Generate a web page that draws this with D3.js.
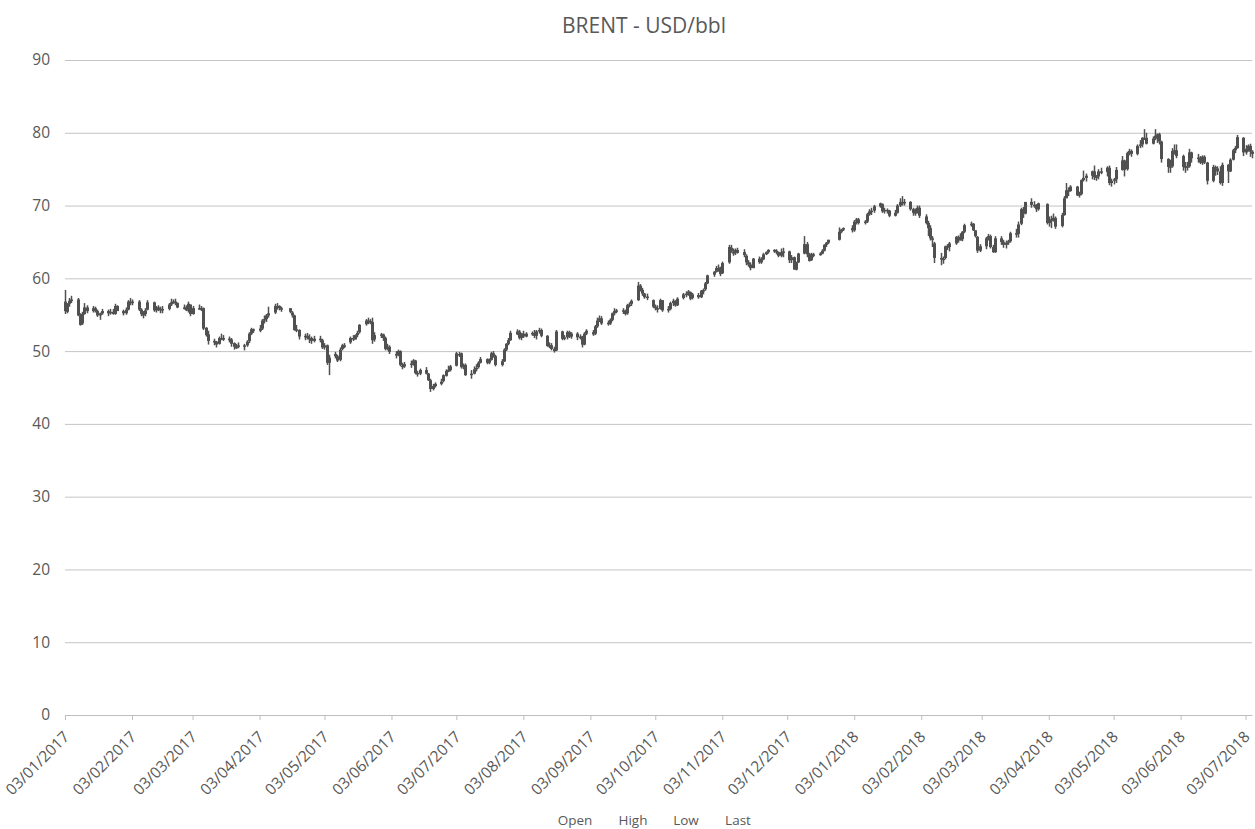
<!DOCTYPE html>
<html>
<head>
<meta charset="utf-8">
<script src="https://cdn.jsdelivr.net/npm/d3@7"></script>
<style>
    html, body { margin: 0; padding: 0; background: #fff; }
    #chart { width: 1255px; height: 829px; }
    text { font-family: "Open Sans", "Noto Sans", sans-serif; fill: #595959; }
    .axis--y .domain { display: none; }
    .axis--y line { stroke: #c4c4c4; }
    .axis--y text { font-size: 15.5px; }
    .axis--x .domain { stroke: #bfbfbf; }
    .axis--x line { stroke: #bfbfbf; }
    .axis--x text { font-size: 15.5px; }
</style>
</head>
<body>
<div id="chart"></div>
<script>

// one row per month, trading days only (weekends and ICE holidays skipped)
var months = [
    [2017, 0], [2017, 1], [2017, 2], [2017, 3], [2017, 4], [2017, 5], [2017, 6],
    [2017, 7], [2017, 8], [2017, 9], [2017, 10], [2017, 11],
    [2018, 0], [2018, 1], [2018, 2], [2018, 3], [2018, 4], [2018, 5], [2018, 6]
];
var holidays = ["2017-01-02", "2017-04-14", "2017-12-25", "2017-12-26", "2018-01-01", "2018-03-30"];

var open = [
    [56.8,55.4,56.5,56.9,57.1,54.9,53.8,55.1,56.0,55.5,55.9,55.5,54.9,55.2,55.5,55.2,55.4,55.1,56.2,55.5,55.2],
    [55.7,56.8,56.6,56.8,55.7,55.0,55.1,55.7,56.7,55.6,56.0,55.8,55.7,55.8,56.4,56.7,56.8,56.6,56.0,56.0],
    [55.6,56.4,55.1,55.8,55.9,55.9,53.2,52.3,51.4,51.3,51.0,51.7,51.8,51.7,51.6,51.1,50.6,50.6,50.7,50.8,51.4,52.4,53.0],
    [52.8,53.1,54.2,54.4,54.9,55.3,56.2,56.2,55.9,55.9,55.3,54.9,52.9,52.9,51.9,52.1,51.8,51.8,51.4],
    [51.7,51.5,50.5,50.8,48.4,49.6,49.3,48.8,50.3,50.8,51.2,51.8,51.6,52.2,52.6,53.7,54.2,54.1,54.0,51.6,52.2,52.3,51.8],
    [50.3,50.6,49.6,49.5,50.0,48.0,47.9,48.2,48.3,48.7,47.0,46.9,47.4,46.9,46.0,44.8,45.2,45.5,45.9,46.6,47.3,47.4],
    [48.0,49.6,49.7,47.8,48.1,46.8,46.9,47.6,47.8,48.4,48.9,48.4,48.8,49.7,49.3,48.1,48.6,50.2,51.0,51.5,52.3],
    [52.7,51.8,52.4,52.0,52.5,52.4,52.1,52.7,52.9,52.1,50.8,50.8,50.3,50.1,52.7,51.7,51.9,52.6,52.0,52.4,51.9,52.0,50.9],
    [52.4,52.6,52.4,53.4,54.2,54.5,53.9,53.8,54.3,55.2,55.5,55.6,55.5,55.2,56.3,56.5,57.0,59.0,58.4,57.9,57.4],
    [57.0,56.1,55.9,55.8,57.0,55.7,55.8,56.6,56.9,56.3,57.3,57.8,57.9,58.1,57.3,57.7,57.4,58.3,58.5,59.3,60.5,60.9],
    [61.4,61.5,60.7,62.2,64.2,63.6,63.5,63.9,63.6,63.1,62.2,61.9,61.4,62.7,62.2,62.6,63.3,63.6,63.9,63.8,63.6,63.1],
    [63.6,63.7,62.5,62.9,61.2,62.2,63.4,64.7,63.3,62.5,63.3,63.3,63.4,63.8,64.6,64.9,65.3,66.4,66.8],
    [66.9,66.6,67.9,68.1,67.6,67.8,68.8,69.2,69.3,69.9,70.2,69.2,69.4,69.3,68.6,69.0,70.0,70.5,70.4,70.5,69.5,69.0],
    [69.1,69.7,68.5,67.6,66.9,65.5,64.8,62.8,62.6,62.8,64.4,64.3,64.8,65.7,65.3,65.4,66.4,67.3,67.5,66.6],
    [65.7,63.8,64.4,65.5,65.8,64.3,63.6,65.5,65.0,64.6,64.9,65.1,66.2,66.1,67.5,69.5,68.9,70.5,70.1,70.0,69.5],
    [70.2,67.6,68.1,68.0,68.3,67.2,68.7,71.0,72.1,72.0,72.6,71.4,71.6,73.5,73.8,74.1,74.7,73.9,74.0,74.7,74.6],
    [75.2,73.1,73.4,73.6,74.9,76.2,75.0,77.2,77.5,77.1,78.2,78.4,79.3,79.3,78.5,79.2,79.6,79.8,78.8,76.4,75.3,75.4,77.5],
    [77.6,76.8,75.3,75.4,75.4,77.3,76.6,76.5,75.9,76.7,75.9,73.4,75.3,75.1,74.7,73.1,75.6,74.7,76.3,77.6,77.9],
    [79.3,77.3,77.8,78.2,77.4]
];

var high = [
    [58.4,56.6,57.3,57.6,57.3,55.2,55.4,56.6,56.3,56.2,56.1,55.7,55.3,55.8,55.7,55.8,55.8,56.5,56.3,55.7,56.0],
    [57.0,57.3,57.1,57.0,55.9,55.5,55.9,57.0,56.8,56.2,56.3,56.1,56.2,56.6,57.2,57.1,57.2,56.7,56.4,56.3],
    [56.8,56.4,56.2,56.4,56.2,56.0,53.3,52.8,51.7,51.4,52.0,52.4,52.2,52.0,51.8,51.2,51.0,51.2,51.0,51.5,52.6,53.2,53.1],
    [53.6,54.4,54.9,55.1,56.1,56.5,56.6,56.3,56.1,55.9,55.5,55.0,53.6,53.0,52.4,52.5,52.3,52.0,52.1],
    [52.1,51.7,51.1,50.9,49.5,49.9,49.5,50.5,51.0,51.1,52.0,52.2,52.3,52.8,53.7,54.4,54.6,54.4,54.6,52.6,52.5,52.4,52.0],
    [51.0,50.8,50.0,50.2,50.1,48.4,48.5,48.7,48.9,48.8,47.3,47.6,47.8,47.0,46.2,45.5,45.7,46.2,46.8,47.5,48.0,48.1],
    [49.9,49.9,49.8,48.3,48.3,47.4,47.9,48.2,48.6,49.2,49.0,49.0,49.9,50.0,49.5,48.9,50.4,51.1,51.8,52.8,53.0],
    [52.9,52.5,52.8,52.6,52.7,52.9,52.9,53.2,53.1,52.2,51.2,51.1,50.6,52.9,52.8,52.2,52.8,52.8,52.6,52.6,52.3,52.1,52.6],
    [53.0,52.9,53.6,54.6,54.9,54.8,54.2,54.5,55.3,55.9,55.8,55.9,55.7,56.5,56.7,57.1,59.5,59.2,58.7,58.0,57.9],
    [57.1,56.4,56.3,57.2,57.0,56.2,56.8,57.2,57.0,57.4,58.0,58.2,58.4,58.2,58.0,58.0,58.4,58.6,59.5,60.5,61.0,61.7],
    [61.9,61.6,62.3,64.6,64.6,64.1,64.1,64.2,64.0,63.3,62.5,62.2,62.8,63.0,62.9,63.5,63.7,64.0,64.0,64.0,63.7,64.1],
    [64.2,63.8,63.2,63.0,62.3,63.5,65.8,65.0,63.5,63.5,63.5,63.6,64.0,64.7,65.0,65.3,67.0,66.8,67.0],
    [67.3,68.0,68.3,68.3,68.0,69.0,69.5,69.7,70.1,70.4,70.3,69.7,69.6,69.4,69.4,70.2,71.0,71.3,70.9,70.6,69.7,69.6],
    [70.0,70.0,68.8,67.9,67.3,65.8,65.0,63.5,63.0,64.5,64.7,65.0,65.8,65.9,66.2,66.5,67.5,67.8,67.6,66.6],
    [65.8,64.7,65.7,66.1,66.0,64.6,65.8,65.8,65.3,65.2,65.3,66.4,66.8,67.8,69.7,69.8,70.5,71.0,70.6,70.2,70.4],
    [70.3,68.5,68.6,68.9,68.5,69.0,71.3,73.1,72.5,72.8,72.7,71.9,73.6,74.8,74.4,74.8,75.5,74.2,75.0,75.2,75.4],
    [75.5,73.7,73.8,75.3,76.8,76.3,77.4,77.8,77.7,78.4,79.0,79.4,80.5,80.0,79.5,80.5,79.9,80.0,78.9,76.5,76.3,77.9,78.4],
    [78.4,77.0,76.0,76.0,77.8,77.4,77.1,76.8,76.9,76.9,76.0,75.6,75.5,75.4,75.4,75.9,75.7,76.5,77.8,78.2,79.7],
    [79.4,78.3,78.4,78.5,77.6]
];

var low = [
    [55.1,55.2,56.1,56.6,54.8,53.5,53.6,55.0,55.2,55.3,55.3,54.7,54.3,55.0,54.8,55.0,55.0,55.0,55.5,54.9,55.0],
    [55.6,56.3,56.3,55.5,54.8,54.5,54.8,55.6,55.4,55.3,55.5,55.2,55.2,55.6,56.2,56.5,56.3,55.9,55.7,55.5],
    [55.3,54.8,55.0,55.7,55.5,52.9,52.0,50.9,50.8,50.5,50.9,51.5,51.4,51.2,50.6,50.2,50.3,50.4,50.1,50.6,51.1,52.2,52.5],
    [52.6,52.9,53.8,54.0,54.6,55.1,55.7,55.6,55.4,55.2,54.6,52.8,52.6,51.6,51.5,51.6,51.1,51.0,51.2],
    [51.2,50.3,50.2,48.1,46.7,49.0,48.5,48.6,50.1,50.4,51.0,51.4,51.6,51.9,52.4,53.5,53.7,53.7,51.0,51.3,51.8,51.4,50.1],
    [50.1,49.6,49.0,49.3,47.9,47.5,47.7,47.7,48.0,46.8,46.5,46.7,46.8,45.9,44.4,44.6,45.0,45.3,45.7,46.5,47.1,47.2],
    [47.9,49.2,47.6,47.5,46.6,46.2,46.8,47.2,47.6,48.3,48.2,48.2,48.7,49.1,47.9,47.9,48.5,50.0,50.8,51.4,52.2],
    [51.6,51.5,51.8,51.9,52.1,51.8,51.6,52.4,51.9,50.6,50.4,50.1,49.8,50.0,51.5,51.5,51.6,51.8,51.7,51.5,51.6,50.5,50.8],
    [52.2,52.1,52.2,53.2,54.0,53.6,53.5,53.6,54.1,54.9,55.2,55.1,54.9,55.0,56.0,56.2,56.9,58.2,57.6,57.2,57.0],
    [55.9,55.6,55.3,55.7,55.4,55.3,55.6,56.2,56.1,56.2,57.1,57.4,57.6,57.0,57.1,57.2,57.3,57.8,58.3,59.2,60.2,60.8],
    [60.9,60.3,60.6,62.0,63.5,63.1,63.2,63.4,62.9,61.8,61.6,61.1,61.4,62.0,62.0,62.5,63.2,63.4,63.5,63.3,62.9,62.9],
    [62.9,62.1,62.1,61.2,61.1,62.1,63.3,62.9,62.3,62.4,62.9,63.1,63.3,63.7,64.3,64.7,65.2,66.2,66.5],
    [66.3,66.4,67.4,67.4,67.4,67.6,68.6,68.7,69.0,69.7,69.0,68.9,68.9,68.4,68.5,68.9,69.8,70.0,70.0,69.3,68.6,68.6],
    [68.9,68.3,67.4,65.8,65.2,64.3,62.1,61.8,62.0,62.6,63.9,63.7,64.6,64.9,65.2,65.1,66.2,67.1,66.5,65.6],
    [63.5,63.6,64.0,65.2,64.1,63.5,63.5,64.6,64.2,64.1,64.6,64.9,65.6,65.6,67.3,68.3,68.8,69.7,69.7,69.1,69.3],
    [67.4,67.1,66.9,67.8,66.8,67.0,68.6,71.0,71.3,71.9,71.3,71.1,71.4,73.3,73.3,73.6,73.5,73.4,73.6,74.3,74.0],
    [72.8,72.6,72.9,73.1,74.8,74.0,74.8,76.9,76.7,76.9,77.9,78.0,79.0,78.4,78.4,79.0,78.6,78.4,75.9,74.5,74.5,75.2,77.0],
    [76.5,74.8,74.5,74.8,75.2,75.9,75.9,75.7,75.6,75.7,72.9,73.2,74.1,74.2,72.9,72.7,73.1,74.6,76.2,77.2,77.8],
    [76.8,77.0,77.4,76.7,76.5]
];

var last = [
    [55.5,56.5,56.9,57.1,54.9,53.6,55.1,56.0,55.5,55.9,55.5,54.9,55.2,55.5,55.2,55.4,55.1,56.2,55.5,55.2,55.7],
    [56.8,56.6,56.8,55.7,55.1,55.1,55.6,56.7,55.6,56.0,55.8,55.7,55.8,56.4,56.7,56.8,56.6,56.0,56.0,55.6],
    [56.5,55.1,55.9,55.9,55.9,53.1,52.2,51.4,51.4,50.9,51.8,51.8,51.8,51.6,51.0,50.6,50.6,50.8,50.8,51.3,52.4,53.0,52.8],
    [53.1,54.2,54.4,54.9,55.2,56.2,56.2,55.9,55.9,55.4,54.9,52.9,53.0,52.0,52.1,51.8,51.8,51.4,51.7],
    [51.5,50.5,50.8,48.4,49.1,49.3,48.7,50.2,50.8,50.8,51.8,51.7,52.2,52.5,53.6,54.2,54.2,54.0,51.5,52.2,52.3,51.8,50.3],
    [50.6,49.9,49.5,50.0,48.1,47.9,48.2,48.3,48.7,47.0,46.9,47.4,46.9,46.0,44.8,45.2,45.5,45.8,46.7,47.3,47.4,47.9],
    [49.7,49.6,47.8,48.1,46.7,46.9,47.5,47.7,48.4,48.9,48.4,48.8,49.7,49.3,48.1,48.6,50.2,51.0,51.5,52.5,52.7],
    [51.8,52.4,52.0,52.4,52.4,52.1,52.7,52.9,52.1,50.7,50.8,50.3,50.0,52.7,51.7,51.9,52.6,52.0,52.4,51.9,52.0,50.9,52.4],
    [52.8,52.3,53.4,54.2,54.5,53.8,53.8,54.3,55.2,55.5,55.6,55.5,55.1,56.3,56.4,56.9,59.0,58.4,57.9,57.4,57.5],
    [56.1,55.9,55.8,57.0,55.6,55.8,56.6,56.9,56.3,57.2,57.8,57.9,58.2,57.2,57.8,57.4,58.3,58.4,59.3,60.4,60.9,61.4],
    [61.4,60.6,62.1,64.3,63.7,63.5,63.9,63.5,63.2,62.2,61.9,61.4,62.7,62.2,62.6,63.3,63.6,63.9,63.8,63.6,63.1,63.6],
    [63.7,62.5,62.9,61.2,62.2,63.4,64.7,63.3,62.4,63.3,63.2,63.4,63.8,64.6,64.9,65.3,66.4,66.7,66.9],
    [66.6,67.8,68.1,67.6,67.8,68.8,69.2,69.3,69.9,70.3,69.2,69.4,69.3,68.6,69.0,70.0,70.5,70.4,70.5,69.5,69.0,69.1],
    [69.7,68.6,67.6,66.9,65.5,65.5,62.8,62.6,62.7,64.4,64.3,64.8,65.7,65.3,65.4,66.4,67.3,67.5,66.6,65.8],
    [63.8,64.4,65.5,65.8,64.3,63.6,65.5,65.0,64.6,64.9,65.1,66.2,66.1,67.4,69.5,68.9,70.5,70.1,70.1,69.5,70.3],
    [67.6,68.1,68.0,68.3,67.1,68.7,71.0,72.1,72.0,72.6,71.4,71.6,73.5,73.8,74.1,74.7,73.9,74.0,74.7,74.6,75.2],
    [73.1,73.4,73.6,74.9,76.2,74.9,77.2,77.5,77.1,78.2,78.4,79.3,79.3,78.5,79.2,79.6,79.8,78.8,76.4,75.3,75.4,77.5,77.6],
    [76.8,75.3,75.4,75.4,77.3,76.5,76.5,75.9,76.7,75.9,73.4,75.3,75.1,74.7,73.1,75.6,74.7,76.3,77.6,77.9,79.4],
    [77.3,77.8,78.2,77.4,77.1]
];

var yTickValues = [0, 10, 20, 30, 40, 50, 60, 70, 80, 90];
var xTickValues = [
    "2017-01-03", "2017-02-03", "2017-03-03", "2017-04-03", "2017-05-03", "2017-06-03", "2017-07-03",
    "2017-08-03", "2017-09-03", "2017-10-03", "2017-11-03", "2017-12-03", "2018-01-03", "2018-02-03",
    "2018-03-03", "2018-04-03", "2018-05-03", "2018-06-03", "2018-07-03"
];
var xDomain = ["2017-01-03", "2018-07-06"];
var title = "BRENT - USD/bbl";
var legendItems = ["Open", "High", "Low", "Last"];

var parse = d3.utcParse("%Y-%m-%d")
    , fmtDay = d3.utcFormat("%Y-%m-%d")
    , fmtTick = d3.utcFormat("%d/%m/%Y");

// trading days of a month, first n of them
function tradingDays(year, month, n) {
    var out = [];
    var d = new Date(Date.UTC(year, month, 1));
    while (d.getUTCMonth() === month && out.length < n) {
        var wd = d.getUTCDay();
        if (wd !== 0 && wd !== 6 && holidays.indexOf(fmtDay(d)) < 0) out.push(new Date(d));
        d = new Date(d.getTime() + 864e5);
    }
    return out;
}

var data = [];
months.forEach(function(m, i) {
    var days = tradingDays(m[0], m[1], last[i].length);
    days.forEach(function(day, j) {
        data.push({date: day, o: open[i][j], h: high[i][j], l: low[i][j], c: last[i][j]});
    });
});

var W = 1255, H = 829
    , margin = {top: 60, right: 3, bottom: 114, left: 65}
    , width = W - margin.left - margin.right
    , height = H - margin.top - margin.bottom;

var svg = d3.select("#chart").append("svg")
    .attr("width", W)
    .attr("height", H);

var g = svg.append("g").attr("transform", "translate(" + margin.left + "," + margin.top + ")");

var x = d3.scaleUtc()
    .domain(xDomain.map(parse))
    .range([0, width]);

var y = d3.scaleLinear()
    .domain([0, 90])
    .range([height, 0]);

var yAxis = d3.axisLeft(y)
    .tickValues(yTickValues)
    .tickSizeInner(-width)
    .tickSizeOuter(0)
    .tickPadding(15);

g.append("g")
    .attr("class", "axis axis--y")
    .call(yAxis);

var xAxis = d3.axisBottom(x)
    .tickValues(xTickValues.map(parse))
    .tickSizeInner(5)
    .tickSizeOuter(0)
    .tickFormat(fmtTick);

var xg = g.append("g")
    .attr("class", "axis axis--x")
    .attr("transform", "translate(0," + height + ")")
    .call(xAxis);

// labels run down-left from just under each tick
xg.selectAll(".tick text")
    .attr("x", 0)
    .attr("y", 0)
    .attr("dy", "0.35em")
    .attr("text-anchor", "end")
    .attr("transform", "translate(1,19) rotate(-45)");

// high-low lines and open/last bodies
var bars = g.append("g")
    .attr("class", "chart-pane bars-pane")
    .selectAll("g")
    .data(data)
    .enter()
    .append("g");

bars.append("line")
    .attr("x1", d => Math.round(x(d.date)) + 0.5)
    .attr("x2", d => Math.round(x(d.date)) + 0.5)
    .attr("y1", d => y(d.h))
    .attr("y2", d => y(d.l))
    .attr("stroke", "#505050")
    .attr("stroke-width", 1.5);

bars.append("rect")
    .attr("x", d => Math.round(x(d.date)) - 1)
    .attr("width", 3)
    .attr("y", d => y(Math.max(d.o, d.c)))
    .attr("height", d => Math.max(1.5, Math.abs(y(d.o) - y(d.c))))
    .attr("fill", "#505050");

svg.append("text")
    .attr("x", 644)
    .attr("y", 33)
    .attr("text-anchor", "middle")
    .style("font-size", "21px")
    .text(title);

var legendX = [575, 633, 686, 738];
svg.append("g")
    .attr("class", "legend")
    .selectAll("text")
    .data(legendItems)
    .enter()
    .append("text")
    .attr("x", (d, i) => legendX[i])
    .attr("y", 825)
    .attr("text-anchor", "middle")
    .style("font-size", "13.5px")
    .text(d => d);

</script>
</body>
</html>
